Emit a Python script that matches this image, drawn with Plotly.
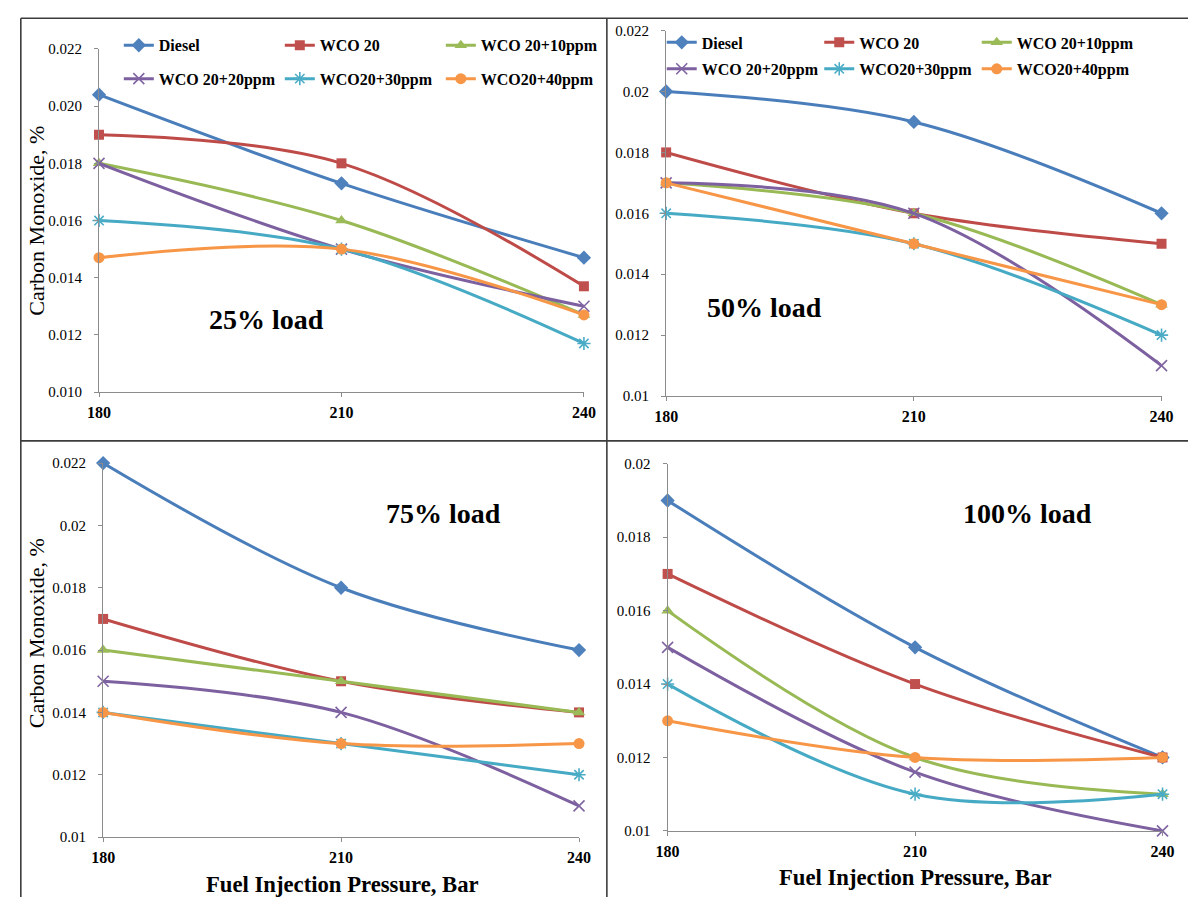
import plotly.graph_objects as go

# ---------------- data ----------------
pressure = [180, 210, 240]
series_names = ["Diesel", "WCO 20", "WCO 20+10ppm", "WCO 20+20ppm", "WCO20+30ppm", "WCO20+40ppm"]
load_labels = ["25% load", "50% load", "75% load", "100% load"]

# CO (%) per series, order = series_names, values at 180/210/240 bar
co_25 = [
    [0.0204, 0.0173, 0.0147],
    [0.0190, 0.0180, 0.0137],
    [0.0180, 0.0160, 0.0127],
    [0.0180, 0.0150, 0.0130],
    [0.0160, 0.0150, 0.0117],
    [0.0147, 0.0150, 0.0127],
]
co_50 = [
    [0.020, 0.019, 0.016],
    [0.018, 0.016, 0.015],
    [0.017, 0.016, 0.013],
    [0.017, 0.016, 0.011],
    [0.016, 0.015, 0.012],
    [0.017, 0.015, 0.013],
]
co_75 = [
    [0.022, 0.018, 0.016],
    [0.017, 0.015, 0.014],
    [0.016, 0.015, 0.014],
    [0.015, 0.014, 0.011],
    [0.014, 0.013, 0.012],
    [0.014, 0.013, 0.013],
]
co_100 = [
    [0.019, 0.015, 0.012],
    [0.017, 0.014, 0.012],
    [0.016, 0.012, 0.011],
    [0.015, 0.0116, 0.010],
    [0.014, 0.011, 0.011],
    [0.013, 0.012, 0.012],
]

xtick_vals = [180, 210, 240]
xtick_text = ["180", "210", "240"]
ytick_vals_a = [0.010, 0.012, 0.014, 0.016, 0.018, 0.020, 0.022]
ytick_text_25 = ["0.010", "0.012", "0.014", "0.016", "0.018", "0.020", "0.022"]
ytick_text_a = ["0.01", "0.012", "0.014", "0.016", "0.018", "0.02", "0.022"]
ytick_vals_100 = [0.010, 0.012, 0.014, 0.016, 0.018, 0.020]
ytick_text_100 = ["0.01", "0.012", "0.014", "0.016", "0.018", "0.02"]

y_title = "Carbon Monoxide, %"
x_title = "Fuel Injection Pressure, Bar"

# ---------------- styling ----------------
W, H = 1200, 905
FONT = "Liberation Serif, Times New Roman, serif"
line_colors = ["#4A7EBB", "#BE4B48", "#98B954", "#7D60A0", "#46AAC5", "#F79646"]
marker_colors = ["#4F81BD", "#C0504D", "#9BBB59", "#8064A2", "#4BACC6", "#F79646"]
symbols = ["diamond", "square", "triangle-up", "x-thin-open", "asterisk-open", "circle"]
msizes = [11, 10, 11, 11, 11, 11]


def fx(px):
    return px / W


def fy(py):
    return 1 - py / H


panels = [
    dict(data=co_25, x0=88.8, x1=583.6, ytop=41.7, ybot=391.0, yr=[0.010, 0.022],
         tv=ytick_vals_a, tt=ytick_text_25),
    dict(data=co_50, x0=667.5, x1=1173.0, ytop=23.0, ybot=395.0, yr=[0.010, 0.022],
         tv=ytick_vals_a, tt=ytick_text_a),
    dict(data=co_75, x0=93.0, x1=578.6, ytop=463.3, ybot=844.0, yr=[0.010, 0.022],
         tv=ytick_vals_a, tt=ytick_text_a),
    dict(data=co_100, x0=669.0, x1=1174.0, ytop=464.0, ybot=837.7, yr=[0.010, 0.020],
         tv=ytick_vals_100, tt=ytick_text_100),
]

legend_for = {
    0: ["legend", "legend", "legend", "legend2", "legend2", "legend2"],
    1: ["legend3", "legend3", "legend3", "legend4", "legend4", "legend4"],
}

fig = go.Figure()
layout_axes = {}
for p_i, p in enumerate(panels):
    n = p_i + 1
    xa = "x" if n == 1 else f"x{n}"
    ya = "y" if n == 1 else f"y{n}"
    for s_i, name in enumerate(series_names):
        sym = symbols[s_i]
        open_sym = sym.endswith("-open")
        marker = dict(
            symbol=sym,
            size=msizes[s_i],
            color=marker_colors[s_i],
            line=dict(width=1.6 if open_sym else 0, color=marker_colors[s_i]),
        )
        tr = go.Scatter(
            x=pressure,
            y=p["data"][s_i],
            name=name,
            mode="lines+markers",
            line=dict(color=line_colors[s_i], width=3, shape="spline", smoothing=1.0),
            marker=marker,
            xaxis=xa,
            yaxis=ya,
            cliponaxis=False,
            showlegend=p_i in legend_for,
        )
        if p_i in legend_for:
            tr.legend = legend_for[p_i][s_i]
        fig.add_trace(tr)

    xkey = "xaxis" if n == 1 else f"xaxis{n}"
    ykey = "yaxis" if n == 1 else f"yaxis{n}"
    layout_axes[xkey] = dict(
        domain=[fx(p["x0"]), fx(p["x1"])],
        anchor=ya,
        range=[180, 240],
        tickvals=xtick_vals,
        ticktext=xtick_text,
        showgrid=False,
        zeroline=False,
        showline=True,
        linecolor="#8C8C8C",
        linewidth=1.2,
        ticks="outside",
        ticklen=4,
        tickcolor="#8C8C8C",
        tickfont=dict(family=FONT, size=16, color="black", weight="bold"),
        ticklabelstandoff=2,
    )
    layout_axes[ykey] = dict(
        domain=[fy(p["ybot"]), fy(p["ytop"])],
        anchor=xa,
        range=p["yr"],
        tickvals=p["tv"],
        ticktext=p["tt"],
        showgrid=False,
        zeroline=False,
        showline=True,
        linecolor="#8C8C8C",
        linewidth=1.2,
        ticks="outside",
        ticklen=4,
        tickcolor="#8C8C8C",
        tickfont=dict(family=FONT, size=15, color="black"),
        ticklabelstandoff=9,
    )

fig.update_layout(**layout_axes)

# legends (one per row)
leg_common = dict(
    orientation="h",
    xanchor="left",
    yanchor="middle",
    bgcolor="rgba(0,0,0,0)",
    borderwidth=0,
    font=dict(family=FONT, size=16, color="black", weight="bold"),
    entrywidthmode="pixels",
    itemwidth=30,
)
fig.update_layout(
    legend=dict(x=fx(109), y=fy(38), entrywidth=116, **leg_common),
    legend2=dict(x=fx(109), y=fy(72), entrywidth=116, **leg_common),
    legend3=dict(x=fx(663), y=fy(35), entrywidth=112.5, **leg_common),
    legend4=dict(x=fx(663), y=fy(62), entrywidth=112.5, **leg_common),
)

annotations = []
# load labels
load_pos = [(260, 317), (768, 305), (440, 515), (1036, 515)]
for (ax_, ay_), lab in zip(load_pos, load_labels):
    annotations.append(dict(
        x=fx(ax_), y=fy(ay_), xref="paper", yref="paper", text=lab, showarrow=False,
        xanchor="center", yanchor="middle",
        font=dict(family=FONT, size=28, color="black", weight="bold"),
    ))
# y titles
for (ax_, ay_) in [(25, 217), (25, 637)]:
    annotations.append(dict(
        x=fx(ax_), y=fy(ay_), xref="paper", yref="paper", text=y_title, showarrow=False,
        textangle=-90, xanchor="center", yanchor="middle",
        font=dict(family=FONT, size=22, color="black"),
    ))
# x titles
for (ax_, ay_) in [(337, 892), (922, 885)]:
    annotations.append(dict(
        x=fx(ax_), y=fy(ay_), xref="paper", yref="paper", text=x_title, showarrow=False,
        xanchor="center", yanchor="middle",
        font=dict(family=FONT, size=22.7, color="black", weight="bold"),
    ))

# panel frame lines
frame = dict(color="#3C3C3C", width=1.6)
shapes = [
    dict(type="line", xref="paper", yref="paper", x0=fx(9), x1=fx(1200), y0=fy(10.5), y1=fy(10.5), line=frame),
    dict(type="line", xref="paper", yref="paper", x0=fx(9), x1=fx(9), y0=fy(10.5), y1=fy(905), line=frame),
    dict(type="line", xref="paper", yref="paper", x0=fx(607), x1=fx(607), y0=fy(10.5), y1=fy(905), line=frame),
    dict(type="line", xref="paper", yref="paper", x0=fx(9), x1=fx(1200), y0=fy(440.7), y1=fy(440.7), line=frame),
]

fig.update_layout(
    width=W,
    height=H,
    margin=dict(l=0, r=0, t=0, b=0),
    paper_bgcolor="white",
    plot_bgcolor="white",
    annotations=annotations,
    shapes=shapes,
    font=dict(family=FONT, color="black"),
)

fig.write_html(
    "out.html",
    config={"displayModeBar": False},
    post_script="document.body.style.margin='0';document.body.style.padding='0';"
                "document.body.style.overflow='hidden';",
)
